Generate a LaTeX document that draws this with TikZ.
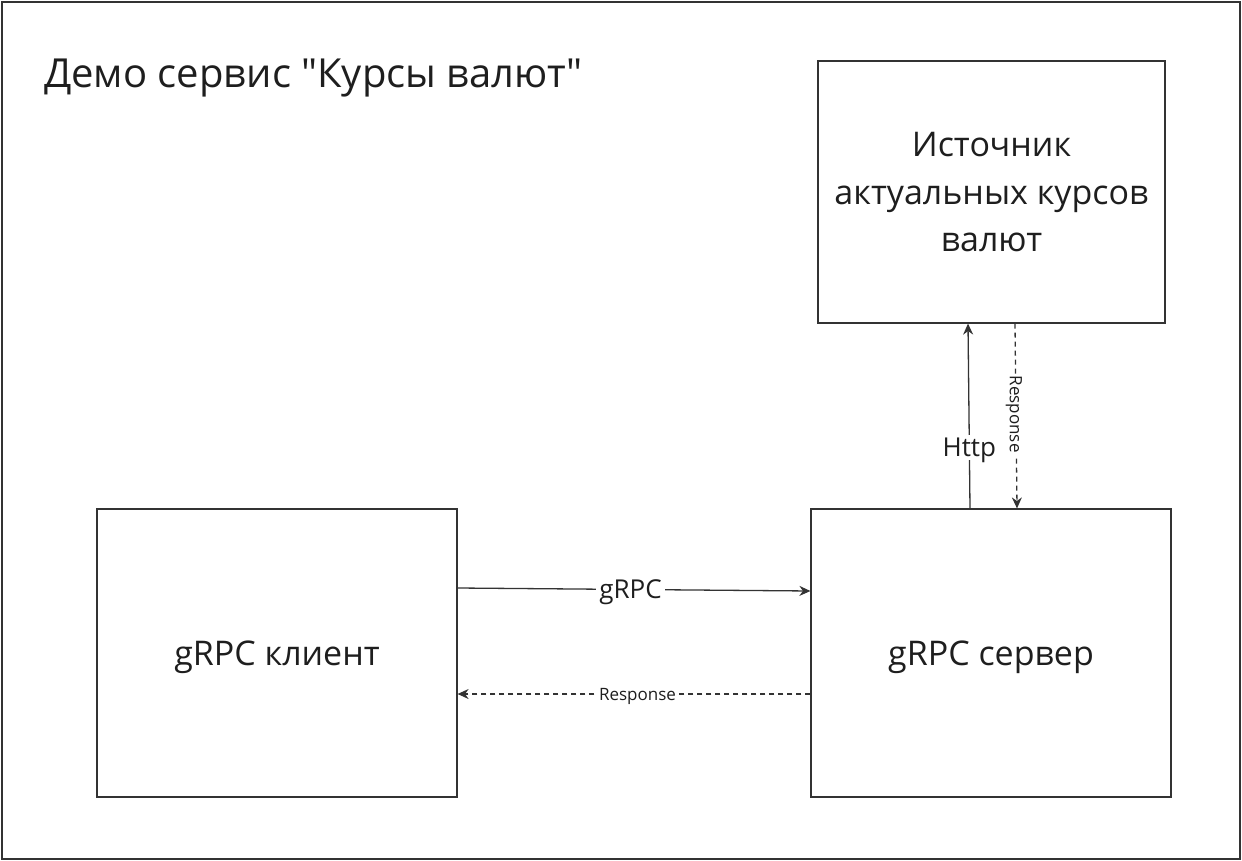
\documentclass[tikz,border=0pt]{standalone}
\usepackage{fontspec}
\setmainfont{Open Sans}
\usetikzlibrary{arrows.meta,calc}

\definecolor{linegray}{HTML}{333333}
\definecolor{textgray}{HTML}{1E1E1E}

\tikzset{
    block/.style={draw=linegray, line width=1.2pt, text=textgray,
        minimum width=#1, align=center, inner sep=0pt,
        font=\fontsize{34}{47.5}\selectfont},
    flow/.style={draw=linegray, line width=1.3pt, -{Stealth[length=11pt,width=10pt]}},
    reply/.style={flow, dashed, dash pattern=on 5pt off 4pt},
    biglabel/.style={fill=white, text=textgray, inner sep=3pt, text depth=0pt,
        font=\fontsize{26}{30}\selectfont},
    smalllabel/.style={fill=white, text=textgray, inner sep=2pt, text depth=0pt,
        font=\fontsize{17}{20}\selectfont}
}

\begin{document}
\begin{tikzpicture}[x=1pt, y=-1pt]
    % Canvas and outer frame
    \useasboundingbox (0,0) rectangle (1242,861);
    \draw[linegray, line width=1.2pt] (2,2) rectangle (1240,859);

    % Title
    \node (title) [anchor=base west, text=textgray, inner sep=0pt,
        font=\fontsize{40}{44}\selectfont] at (44,88)
        {Демо сервис \textquotedbl Курсы валют\textquotedbl};

    % Blocks
    \node (source) [block=347pt, minimum height=262pt, text depth=-4pt] at (991.5,192)
        {Источник\\актуальных курсов\\валют};
    \node (client) [block=360pt, minimum height=288pt, text depth=0pt] at (277,653)
        {gRPC клиент};
    \node (server) [block=360pt, minimum height=288pt, text depth=0pt] at (991,653)
        {gRPC сервер};

    % Client <-> server
    \draw[flow] ([yshift=65pt]client.east) -- ([yshift=62pt]server.west)
        node (grpc) [biglabel, pos=0.49] {gRPC};
    \draw[reply] ([yshift=-41pt]server.west) -- ([yshift=-41pt]client.east)
        node (resp) [smalllabel, pos=0.49] {Response};

    % Server <-> source
    \draw[flow] ([xshift=-21pt]server.north) -- ([xshift=-23.5pt]source.south)
        node (http) [biglabel, pos=0.33] {Http};
    \draw[reply] ([xshift=23.5pt]source.south) -- ([xshift=26pt]server.north)
        node (resp2) [smalllabel, rotate=-90, pos=0.49] {Response};
\end{tikzpicture}
\end{document}
